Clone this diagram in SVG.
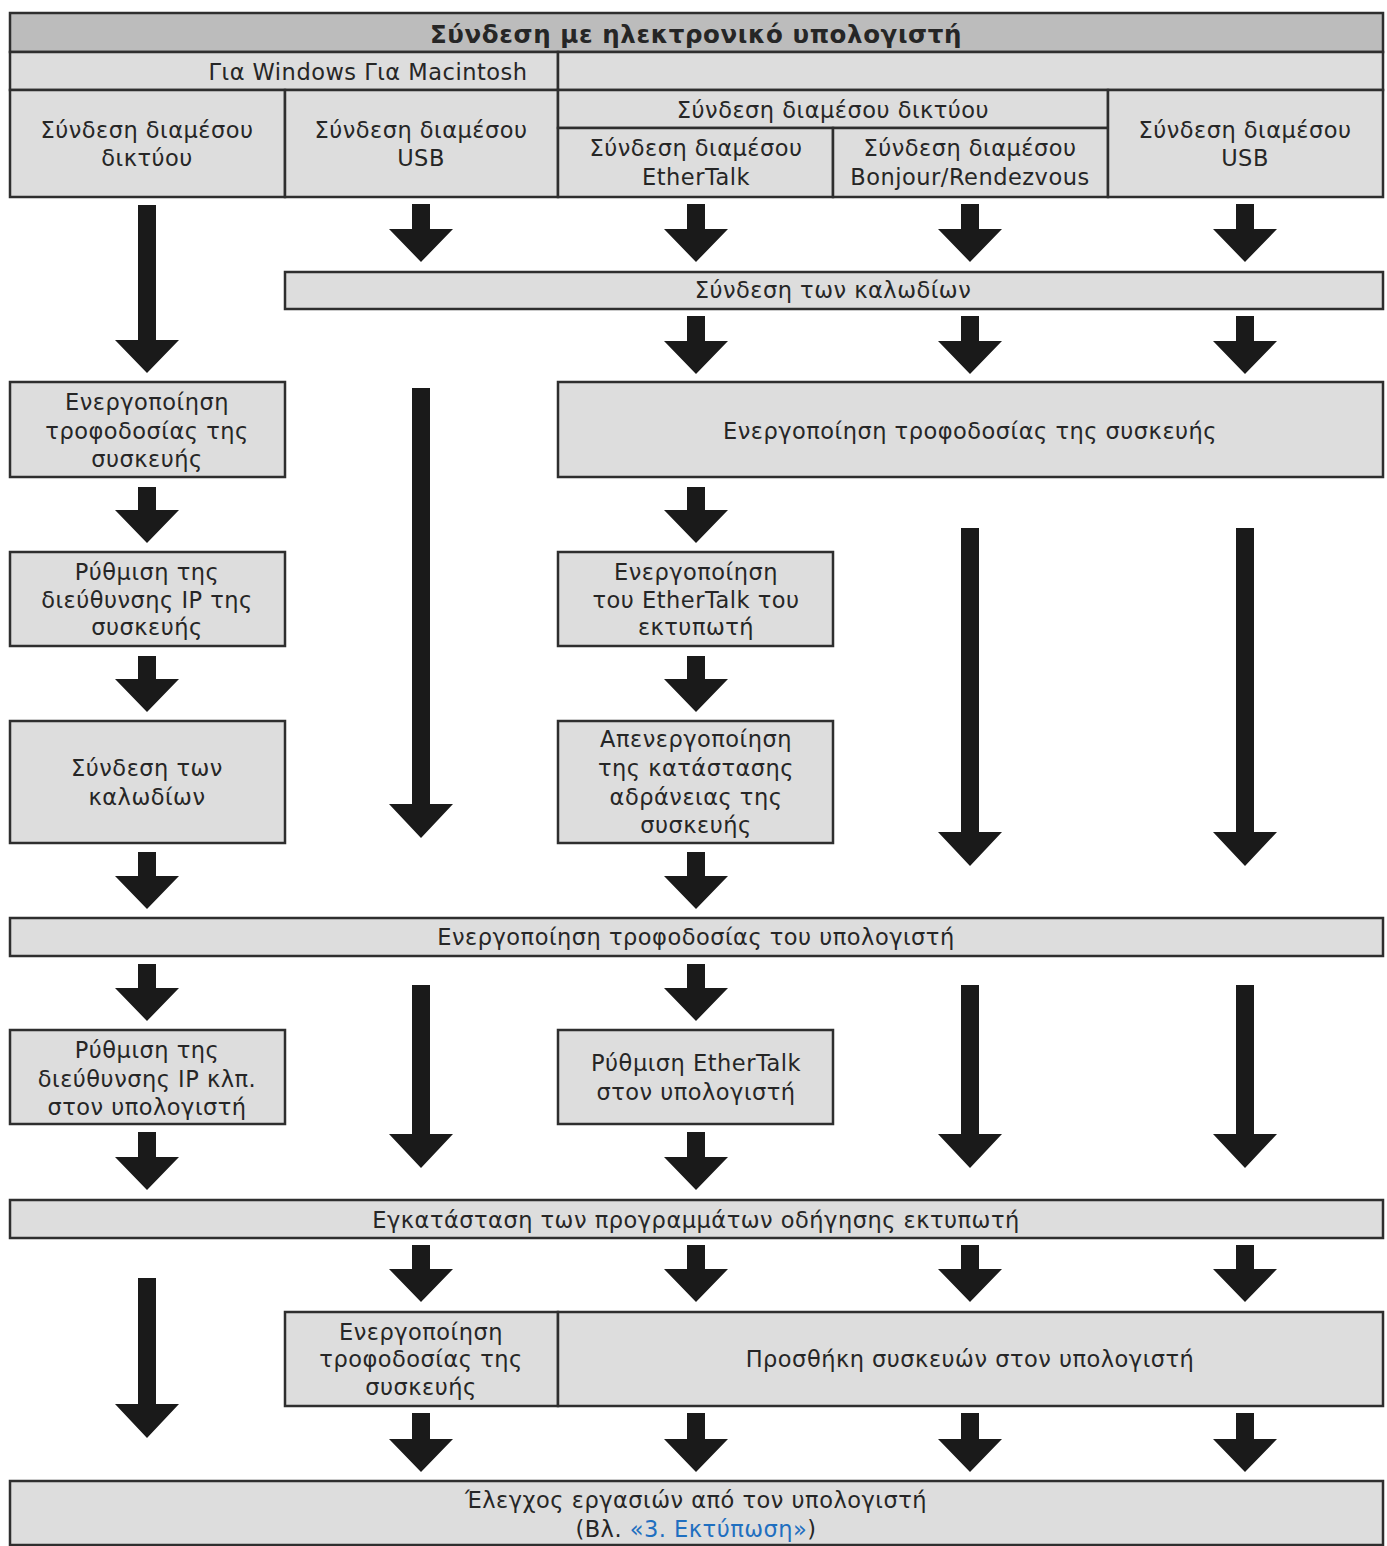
<svg xmlns="http://www.w3.org/2000/svg" width="1387" height="1546" viewBox="0 0 1387 1546">
<style>
.box{fill:#dddddd;stroke:#2e2e2e;stroke-width:2.5}
.title{fill:#bcbcbc;stroke:#2e2e2e;stroke-width:2.5}
text{font-family:"DejaVu Sans",Verdana,sans-serif;font-size:22.5px;letter-spacing:0.5px;fill:#262626;text-anchor:middle}
.tt{font-weight:bold;font-size:24.5px;letter-spacing:0.6px}
.link{fill:#1f6fc0}
.arr{fill:#1a1a1a}
</style>
<rect width="1387" height="1546" fill="#ffffff"/>
<g id="header">
<rect class="title" x="10" y="13" width="1373" height="39"/>
<text class="tt" x="696" y="43">Σύνδεση με ηλεκτρονικό υπολογιστή</text>
<rect class="box" x="10" y="52" width="548" height="38"/>
<rect class="box" x="558" y="52" width="825" height="38"/>
<text x="368" y="80">Για Windows Για Macintosh</text>
</g>
<g id="h-win-net"><rect class="box" x="10" y="90" width="275" height="107"/><text x="147" y="138">Σύνδεση διαμέσου</text><text x="147" y="166">δικτύου</text></g>
<g id="h-win-usb"><rect class="box" x="285" y="90" width="273" height="107"/><text x="421" y="138">Σύνδεση διαμέσου</text><text x="421" y="166">USB</text></g>
<g id="h-mac-net"><rect class="box" x="558" y="90" width="550" height="38"/><text x="833" y="118">Σύνδεση διαμέσου δικτύου</text></g>
<g id="h-mac-ether"><rect class="box" x="558" y="128" width="275" height="69"/><text x="696" y="156">Σύνδεση διαμέσου</text><text x="696" y="185">EtherTalk</text></g>
<g id="h-mac-bonjour"><rect class="box" x="833" y="128" width="275" height="69"/><text x="970" y="156">Σύνδεση διαμέσου</text><text x="970" y="185">Bonjour/Rendezvous</text></g>
<g id="h-mac-usb"><rect class="box" x="1108" y="90" width="275" height="107"/><text x="1245" y="138">Σύνδεση διαμέσου</text><text x="1245" y="166">USB</text></g>

<g id="n-cables"><rect class="box" x="285" y="272" width="1098" height="37"/><text x="833" y="298">Σύνδεση των καλωδίων</text></g>
<g id="n-power-dev-win"><rect class="box" x="10" y="382" width="275" height="95"/><text x="147" y="410">Ενεργοποίηση</text><text x="147" y="439">τροφοδοσίας της</text><text x="147" y="467">συσκευής</text></g>
<g id="n-power-dev-mac"><rect class="box" x="558" y="382" width="825" height="95"/><text x="970" y="439">Ενεργοποίηση τροφοδοσίας της συσκευής</text></g>
<g id="n-ip-dev"><rect class="box" x="10" y="552" width="275" height="94"/><text x="147" y="580">Ρύθμιση της</text><text x="147" y="608">διεύθυνσης IP της</text><text x="147" y="635">συσκευής</text></g>
<g id="n-ethertalk-on"><rect class="box" x="558" y="552" width="275" height="94"/><text x="696" y="580">Ενεργοποίηση</text><text x="696" y="608">του EtherTalk του</text><text x="696" y="635">εκτυπωτή</text></g>
<g id="n-cables-win"><rect class="box" x="10" y="721" width="275" height="122"/><text x="147" y="776">Σύνδεση των</text><text x="147" y="805">καλωδίων</text></g>
<g id="n-sleep-off"><rect class="box" x="558" y="721" width="275" height="122"/><text x="696" y="747">Απενεργοποίηση</text><text x="696" y="776">της κατάστασης</text><text x="696" y="805">αδράνειας της</text><text x="696" y="833">συσκευής</text></g>
<g id="n-power-pc"><rect class="box" x="10" y="918" width="1373" height="38"/><text x="696" y="945">Ενεργοποίηση τροφοδοσίας του υπολογιστή</text></g>
<g id="n-ip-pc"><rect class="box" x="10" y="1030" width="275" height="94"/><text x="147" y="1058">Ρύθμιση της</text><text x="147" y="1087">διεύθυνσης IP κλπ.</text><text x="147" y="1115">στον υπολογιστή</text></g>
<g id="n-ethertalk-pc"><rect class="box" x="558" y="1030" width="275" height="94"/><text x="696" y="1071">Ρύθμιση EtherTalk</text><text x="696" y="1100">στον υπολογιστή</text></g>
<g id="n-install"><rect class="box" x="10" y="1200" width="1373" height="38"/><text x="696" y="1228">Εγκατάσταση των προγραμμάτων οδήγησης εκτυπωτή</text></g>
<g id="n-power-dev-usb"><rect class="box" x="285" y="1312" width="273" height="94"/><text x="421" y="1340">Ενεργοποίηση</text><text x="421" y="1367">τροφοδοσίας της</text><text x="421" y="1395">συσκευής</text></g>
<g id="n-add"><rect class="box" x="558" y="1312" width="825" height="94"/><text x="970" y="1367">Προσθήκη συσκευών στον υπολογιστή</text></g>
<g id="n-check"><rect class="box" x="10" y="1481" width="1373" height="64"/><text x="696" y="1508">Έλεγχος εργασιών από τον υπολογιστή</text><text x="696" y="1537">(Βλ. <tspan class="link">«3. Εκτύπωση»</tspan>)</text></g>

<g id="connectors" class="arr">
<path d="M138,205H156V340H179L147,373L115,340H138Z"/>
<path d="M412,204H430V229H453L421,262L389,229H412Z"/>
<path d="M687,204H705V229H728L696,262L664,229H687Z"/>
<path d="M961,204H979V229H1002L970,262L938,229H961Z"/>
<path d="M1236,204H1254V229H1277L1245,262L1213,229H1236Z"/>
<path d="M687,316H705V341H728L696,374L664,341H687Z"/>
<path d="M961,316H979V341H1002L970,374L938,341H961Z"/>
<path d="M1236,316H1254V341H1277L1245,374L1213,341H1236Z"/>
<path d="M138,487H156V510H179L147,543L115,510H138Z"/>
<path d="M412,388H430V804H453L421,838L389,804H412Z"/>
<path d="M687,487H705V510H728L696,543L664,510H687Z"/>
<path d="M961,528H979V832H1002L970,866L938,832H961Z"/>
<path d="M1236,528H1254V832H1277L1245,866L1213,832H1236Z"/>
<path d="M138,656H156V679H179L147,712L115,679H138Z"/>
<path d="M687,656H705V679H728L696,712L664,679H687Z"/>
<path d="M138,852H156V876H179L147,909L115,876H138Z"/>
<path d="M687,852H705V876H728L696,909L664,876H687Z"/>
<path d="M138,964H156V988H179L147,1021L115,988H138Z"/>
<path d="M687,964H705V988H728L696,1021L664,988H687Z"/>
<path d="M412,985H430V1134H453L421,1168L389,1134H412Z"/>
<path d="M961,985H979V1134H1002L970,1168L938,1134H961Z"/>
<path d="M1236,985H1254V1134H1277L1245,1168L1213,1134H1236Z"/>
<path d="M138,1132H156V1157H179L147,1190L115,1157H138Z"/>
<path d="M687,1132H705V1157H728L696,1190L664,1157H687Z"/>
<path d="M138,1278H156V1404H179L147,1438L115,1404H138Z"/>
<path d="M412,1245H430V1269H453L421,1302L389,1269H412Z"/>
<path d="M687,1245H705V1269H728L696,1302L664,1269H687Z"/>
<path d="M961,1245H979V1269H1002L970,1302L938,1269H961Z"/>
<path d="M1236,1245H1254V1269H1277L1245,1302L1213,1269H1236Z"/>
<path d="M412,1413H430V1439H453L421,1472L389,1439H412Z"/>
<path d="M687,1413H705V1439H728L696,1472L664,1439H687Z"/>
<path d="M961,1413H979V1439H1002L970,1472L938,1439H961Z"/>
<path d="M1236,1413H1254V1439H1277L1245,1472L1213,1439H1236Z"/>
</g>
</svg>
